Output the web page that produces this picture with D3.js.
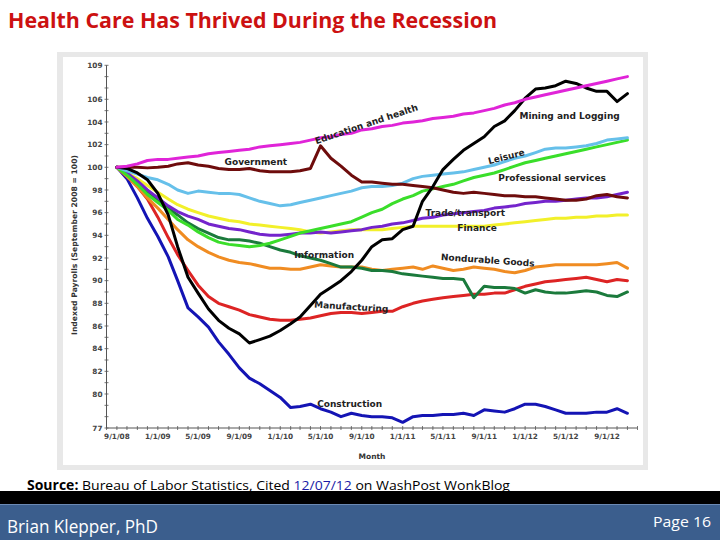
<!DOCTYPE html>
<html><head><meta charset="utf-8">
<script src="https://cdn.jsdelivr.net/npm/d3@7"></script>
<style>body{margin:0;background:#fff}svg{display:block}</style>
</head><body><svg id="c" width="720" height="540"></svg>
<script>
// ---- DATA ----
const firstMonth = "2008-09-01";
const lastMonth = "2012-11-01";
const xTickLabels = ["9/1/08","1/1/09","5/1/09","9/1/09","1/1/10","5/1/10","9/1/10","1/1/11","5/1/11","9/1/11","1/1/12","5/1/12","9/1/12"];
const yTickLabels = [77,80,82,84,86,88,90,92,94,96,98,100,102,104,106,109];

const educationHealth = [100,100.1,100.3,100.6,100.7,100.7,100.8,100.9,101.0,101.2,101.3,101.4,101.5,
  101.6,101.8,101.9,102.0,102.1,102.2,102.4,102.6,102.7,102.9,103.0,103.3,
  103.4,103.6,103.7,103.9,104.0,104.1,104.3,104.4,104.5,104.7,104.8,105.0,
  105.2,105.5,105.7,106.0,106.2,106.4,106.6,106.8,107.0,107.2,107.4,107.6,107.8,108.0];
const government = [100,100,100,99.95,100,100.1,100.3,100.4,100.2,100.1,99.9,99.8,99.8,
  99.9,99.7,99.6,99.6,99.6,99.7,99.9,101.9,100.8,100.1,99.3,98.7,
  98.7,98.6,98.5,98.5,98.4,98.3,98.2,98.0,97.8,97.7,97.8,97.7,
  97.6,97.5,97.5,97.4,97.4,97.3,97.2,97.1,97.1,97.2,97.5,97.6,97.4,97.3];
const miningLogging = [100,99.9,99.5,98.9,97.7,95.8,93.0,90.3,88.9,87.5,86.5,85.8,85.3,
  84.5,84.8,85.1,85.6,86.2,86.8,87.8,88.8,89.4,90.0,90.8,91.8,
  93.0,93.6,93.7,94.5,94.8,97.0,98.3,99.8,100.7,101.5,102.1,102.7,
  103.6,104.1,105.0,106.1,106.9,107.0,107.2,107.6,107.4,107.0,106.7,106.7,105.8,106.5];
const leisure = [100,99.7,99.4,99.1,98.9,98.5,98.0,97.7,97.9,97.8,97.7,97.7,97.6,
  97.3,97.0,96.8,96.6,96.7,96.9,97.1,97.3,97.5,97.7,97.9,98.2,
  98.3,98.3,98.4,98.6,99.0,99.2,99.3,99.4,99.5,99.6,99.8,100.0,
  100.2,100.5,100.8,101.0,101.3,101.6,101.7,101.7,101.8,101.9,102.1,102.4,102.5,102.6];
const professional = [100,99.3,98.5,97.6,96.9,96.2,95.4,94.9,94.3,93.8,93.4,93.2,93.1,
  93.0,93.1,93.3,93.6,93.9,94.2,94.4,94.6,94.8,95.0,95.2,95.6,
  96.0,96.3,96.8,97.2,97.5,97.9,98.1,98.3,98.5,98.8,99.1,99.3,
  99.5,99.8,100.1,100.4,100.6,100.8,101.0,101.2,101.4,101.6,101.8,102.0,102.2,102.4];
const tradeTransport = [100,99.5,98.8,98.0,97.3,96.6,96.1,95.7,95.4,95.0,94.8,94.6,94.5,
  94.3,94.1,94.0,94.0,94.1,94.2,94.2,94.3,94.2,94.3,94.4,94.5,
  94.7,94.8,95.0,95.1,95.3,95.5,95.6,95.8,95.9,96.0,96.1,96.2,
  96.4,96.5,96.6,96.8,96.9,97.0,97.0,97.1,97.2,97.3,97.3,97.4,97.6,97.8];
const finance = [100,99.5,99.0,98.4,97.8,97.2,96.7,96.3,96.0,95.7,95.5,95.3,95.2,
  95.0,94.9,94.8,94.7,94.6,94.5,94.3,94.2,94.3,94.4,94.5,94.5,
  94.5,94.5,94.6,94.7,94.8,94.8,94.8,94.8,94.8,94.8,94.8,94.8,
  94.9,95.0,95.1,95.2,95.3,95.4,95.5,95.5,95.6,95.6,95.7,95.7,95.8,95.8];
const information = [100,99.4,98.7,97.9,97.1,96.4,95.8,95.1,94.6,94.2,93.8,93.6,93.6,
  93.5,93.3,93.0,92.7,92.5,92.2,92.0,91.8,91.5,91.2,91.2,91.1,
  90.9,90.9,90.8,90.6,90.5,90.4,90.3,90.2,90.2,90.1,88.5,89.5,
  89.4,89.4,89.3,88.9,89.2,89.0,88.9,88.9,89.0,89.1,89.0,88.7,88.6,89.0];
const nondurable = [100,99.2,98.3,97.3,96.4,95.4,94.5,93.6,93.0,92.5,92.1,91.8,91.6,
  91.5,91.3,91.1,91.1,91.0,91.0,91.2,91.4,91.3,91.2,91.2,91.2,
  91.0,90.9,91.0,91.1,91.2,91.0,91.3,91.1,90.9,91.0,91.2,91.1,
  91.0,90.8,90.7,90.9,91.2,91.3,91.4,91.4,91.4,91.4,91.4,91.5,91.6,91.1];
const manufacturing = [100,99.2,98.3,97.2,95.6,93.8,92.3,90.9,89.6,88.6,88.0,87.7,87.4,
  87.0,86.8,86.6,86.5,86.5,86.6,86.7,86.9,87.1,87.2,87.2,87.1,
  87.2,87.3,87.3,87.7,88.0,88.2,88.35,88.5,88.6,88.7,88.8,88.8,
  88.9,88.9,89.2,89.5,89.7,89.9,90.0,90.1,90.2,90.3,90.1,89.9,90.1,90.0];
const construction = [100,99.0,97.3,95.5,93.9,92.1,90.0,87.6,86.8,85.9,84.6,83.5,82.3,
  81.4,80.9,80.3,79.7,78.8,78.9,79.1,78.7,78.4,78.0,78.3,78.1,
  78.0,78.0,77.9,77.5,78.0,78.1,78.1,78.2,78.2,78.3,78.1,78.6,
  78.5,78.4,78.7,79.1,79.1,78.9,78.6,78.3,78.3,78.3,78.4,78.4,78.7,78.3];

const seriesNames = ["Construction","Manufacturing","Nondurable Goods","Information","Finance","Trade/transport","Professional services","Leisure","Government","Mining and Logging","Education and health"];
const seriesValues = [construction,manufacturing,nondurable,information,finance,tradeTransport,professional,leisure,government,miningLogging,educationHealth];
const seriesColors = ["#1414b4","#dd2424","#f08c22","#1b7a3c","#f2f02a","#7424cc","#3ade2a","#66c0ea","#6e0c0c","#000000","#e024d8"];

// label anchors in data space: [text, date, value, rotation]
const labelAnchors = [
  ["Education and health","2010-04-15",102.3,-18.5],
  ["Government","2009-07-19",100.5,0],
  ["Mining and Logging","2011-12-15",104.5,0],
  ["Leisure","2011-09-13",100.55,-14],
  ["Professional services","2011-10-13",99.1,0],
  ["Trade/transport","2011-03-10",96.0,0],
  ["Finance","2011-06-13",94.7,0],
  ["Information","2010-02-12",92.3,0],
  ["Nondurable Goods","2011-04-25",92.1,4],
  ["Manufacturing","2010-04-12",87.9,3.5],
  ["Construction","2010-04-21",79.1,0]
];

// ---- DRAW ----
const svg = d3.select("#c");
const parse = d3.timeParse("%Y-%m-%d");
const months = d3.timeMonth.range(parse(firstMonth), d3.timeMonth.offset(parse(lastMonth),1));

function fit(sel, target){
  const fs = parseFloat(sel.attr("font-size"));
  const w = sel.node().getComputedTextLength();
  sel.attr("font-size", (fs*target/w).toFixed(2));
}

// title
svg.append("text").attr("x",8).attr("y",28)
  .attr("font-family","Open Sans").attr("font-weight","bold").attr("font-size",22)
  .attr("textLength",489).attr("lengthAdjust","spacingAndGlyphs")
  .attr("fill","#cc1111").text("Health Care Has Thrived During the Recession");

// chart frame
svg.append("rect").attr("x",57).attr("y",52).attr("width",591).attr("height",418).attr("fill","#e8e8e8");
svg.append("rect").attr("x",63).attr("y",57).attr("width",580).attr("height",408).attr("fill","#ffffff");

const x = d3.scaleTime().domain([parse("2008-08-01"), parse("2012-12-01")]).range([106.5, 637.5]);
const y = d3.scaleLinear().domain([77,109]).range([428, 65.3]);

const g = svg.append("g");

// axes lines
const axisColor = "#555";
g.append("line").attr("x1",x.range()[0]).attr("x2",x.range()[0]).attr("y1",y(109)).attr("y2",y(77)).attr("stroke",axisColor).attr("stroke-width",1);
g.append("line").attr("x1",x.range()[0]).attr("x2",x.range()[1]).attr("y1",y(77)).attr("y2",y(77)).attr("stroke",axisColor).attr("stroke-width",1);

// minor ticks
const xMinor = d3.timeMonth.range(parse("2008-08-01"), d3.timeMonth.offset(parse("2012-12-01"),1));
g.selectAll(".xt").data(xMinor).enter().append("line")
  .attr("x1",d=>x(d)).attr("x2",d=>x(d)).attr("y1",y(77)-2).attr("y2",y(77)+2)
  .attr("stroke",axisColor).attr("stroke-width",0.8);
g.selectAll(".yt").data(d3.range(77,110)).enter().append("line")
  .attr("x1",x.range()[0]-2).attr("x2",x.range()[0]+2).attr("y1",d=>y(d)).attr("y2",d=>y(d))
  .attr("stroke",axisColor).attr("stroke-width",0.8);

// tick labels
const fmtIn = d3.timeParse("%m/%d/%y");
g.selectAll(".xl").data(xTickLabels).enter().append("text")
  .attr("x",d=>x(fmtIn(d))).attr("y",y(77)+11).attr("text-anchor","middle")
  .attr("font-family","DejaVu Sans").attr("font-size",7.3).attr("font-weight","bold").attr("fill","#444").text(d=>d);
g.selectAll(".yl").data(yTickLabels).enter().append("text")
  .attr("x",x.range()[0]-4).attr("y",d=>y(d)).attr("dy","0.35em").attr("text-anchor","end")
  .attr("font-family","DejaVu Sans").attr("font-size",7.3).attr("font-weight","bold").attr("fill","#444").text(d=>d);

// axis titles
const yt = g.append("text").attr("transform","translate(77,245) rotate(-90)").attr("text-anchor","middle")
  .attr("font-family","DejaVu Sans").attr("font-weight","bold").attr("font-size",8).attr("fill","#333")
  .text("Indexed Payrolls (September 2008 = 100)");
fit(yt, 180);
g.append("text").attr("x",372).attr("y",459).attr("text-anchor","middle")
  .attr("font-family","DejaVu Sans").attr("font-weight","bold").attr("font-size",7.5).attr("fill","#333").text("Month");

// lines
const line = d3.line().x((d,i)=>x(months[i])).y(d=>y(d));
g.selectAll(".ln").data(seriesValues).enter().append("path")
  .attr("d",d=>line(d)).attr("fill","none").attr("stroke",(d,i)=>seriesColors[i])
  .attr("stroke-width",3).attr("stroke-linejoin","round").attr("stroke-linecap","round");

// labels
labelAnchors.forEach(([t,d,v,r])=>{
  const px = x(parse(d)), py = y(v);
  g.append("text").attr("transform",`translate(${px},${py}) rotate(${r})`).attr("dy","0.35em")
    .attr("font-family","DejaVu Sans").attr("font-weight","bold").attr("font-size",9).attr("fill","#222").text(t);
});

// source line
const src = svg.append("text").attr("x",27).attr("y",490).attr("font-family","Open Sans").attr("font-size",13.5)
  .attr("textLength",483).attr("lengthAdjust","spacingAndGlyphs").attr("fill","#000");
src.append("tspan").attr("font-weight","bold").text("Source:");
src.append("tspan").text(" Bureau of Labor Statistics, Cited ");
src.append("tspan").attr("fill","#1a1aa6").attr("text-decoration","underline").text("12/07/12");
src.append("tspan").text(" on WashPost WonkBlog");

// footer
svg.append("rect").attr("x",0).attr("y",491).attr("width",720).attr("height",13).attr("fill","#000");
svg.append("rect").attr("x",0).attr("y",504).attr("width",720).attr("height",36).attr("fill","#3b5e8d");
svg.append("rect").attr("x",0).attr("y",504).attr("width",720).attr("height",1).attr("fill","#6b8ab5");
svg.append("text").attr("x",7).attr("y",533).attr("font-family","Open Sans").attr("font-size",18)
  .attr("textLength",151).attr("lengthAdjust","spacingAndGlyphs").attr("fill","#fff").text("Brian Klepper, PhD");
svg.append("text").attr("x",653).attr("y",527).attr("font-family","Open Sans").attr("font-size",15)
  .attr("textLength",58).attr("lengthAdjust","spacingAndGlyphs").attr("fill","#fff").text("Page 16");
</script></body></html>
